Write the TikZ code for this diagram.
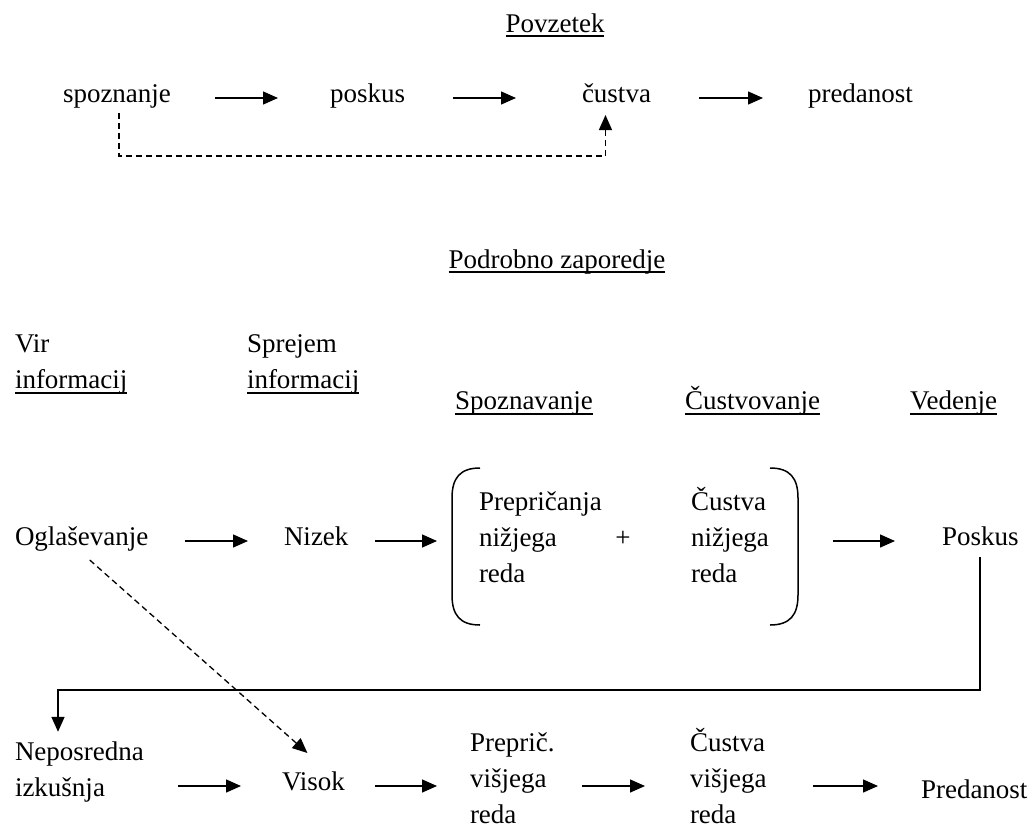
\documentclass[tikz,border=0pt]{standalone}
\usepackage{fontspec}
\setmainfont{Liberation Serif}
\usetikzlibrary{arrows.meta}
\begin{document}
\begin{tikzpicture}[x=1pt,y=-1pt,
  font=\fontsize{27}{36}\selectfont,
  lbl/.style={inner sep=0pt, outer sep=0pt, anchor=base west, text height=17pt, text depth=9pt},
  ttl/.style={inner sep=0pt, outer sep=0pt, anchor=base},
  multi/.style={inner sep=0pt, outer sep=0pt, anchor=base west},
  arr/.style={line width=1.4pt, -{Triangle[length=15pt,width=13pt]}},
  arrb/.style={line width=1.7pt, -{Triangle[length=15pt,width=13pt]}},
  dasharr/.style={line width=1.3pt, dash pattern=on 6pt off 4pt, -{Triangle[length=15pt,width=13pt]}},
  br/.style={line width=1.5pt},
  ul/.style={line width=1.6pt}]
\useasboundingbox (0,0) rectangle (1028,830);

% ---- Povzetek ----
\node[ttl] (povz) at (555,32) {Povzetek};
\draw[ul] ([yshift=-4pt]povz.base west) -- ([yshift=-4pt]povz.base east);

\node[lbl] (spoz) at (63,102) {spoznanje};
\node[lbl] (posk) at (330,102) {poskus};
\node[lbl] (cust) at (582,102) {čustva};
\node[lbl] (pred) at (808,102) {predanost};
\draw[arr] ([xshift=-115pt]posk.west) -- ([xshift=-52pt]posk.west);
\draw[arr] ([xshift=-129pt]cust.west) -- ([xshift=-66pt]cust.west);
\draw[arr] ([xshift=-109pt]pred.west) -- ([xshift=-45pt]pred.west);
\draw[dasharr] ([shift={(2,2)}]spoz.south) -- ++(0,43) -| ([shift={(-11,4)}]cust.south);

% ---- Podrobno zaporedje ----
\node[ttl] (podr) at (557,268) {Podrobno zaporedje};
\draw[ul] ([yshift=-4pt]podr.base west) -- ([yshift=-4pt]podr.base east);

\node[lbl] (vir) at (15,352) {Vir};
\node[lbl] (vinf) at (15,388) {informacij};
\node[lbl] (sprej) at (247,352) {Sprejem};
\node[lbl] (sinf) at (247,388) {informacij};
\node[lbl] (hspo) at (455,409) {Spoznavanje};
\node[lbl] (hcus) at (685,409) {Čustvovanje};
\node[lbl] (hved) at (910,409) {Vedenje};
\foreach \n in {vinf,sinf,hspo,hcus,hved}
  \draw[ul] ([yshift=-5pt]\n.base west) -- ([yshift=-5pt]\n.base east);

% ---- row 2 ----
\node[lbl] (ogl) at (15,545) {Oglaševanje};
\node[lbl] (niz) at (284,545) {Nizek};
\node[inner sep=0pt, outer sep=0pt, minimum width=346pt, minimum height=157pt, anchor=north west] (grp) at (452,468) {};
\node[multi] (pn) at (479,510) {\begin{tabular}[t]{@{}l@{}}Prepričanja\\nižjega\\reda\end{tabular}};
\node[ttl] (plus) at (623,546) {+};
\node[multi] (cn) at (691,510) {\begin{tabular}[t]{@{}l@{}}Čustva\\nižjega\\reda\end{tabular}};
\node[lbl] (posk2) at (942,545) {Poskus};

\draw[br] ([shift={(28,0)}]grp.north west) .. controls ([shift={(8,0)}]grp.north west) and ([shift={(0,10)}]grp.north west) .. ([shift={(0,30)}]grp.north west)
  -- ([shift={(0,-30)}]grp.south west) .. controls ([shift={(0,-10)}]grp.south west) and ([shift={(8,0)}]grp.south west) .. ([shift={(28,0)}]grp.south west);
\draw[br] ([shift={(-28,0)}]grp.north east) .. controls ([shift={(-8,0)}]grp.north east) and ([shift={(0,10)}]grp.north east) .. ([shift={(0,30)}]grp.north east)
  -- ([shift={(0,-30)}]grp.south east) .. controls ([shift={(0,-10)}]grp.south east) and ([shift={(-8,0)}]grp.south east) .. ([shift={(-28,0)}]grp.south east);

\coordinate (gl) at (niz.west -| grp.west);
\draw[arr] ([xshift=-99pt]niz.west) -- ([xshift=-36pt]niz.west);
\draw[arr] ([xshift=-77pt]gl) -- ([xshift=-15pt]gl);
\draw[arr] ([xshift=-109pt]posk2.west) -- ([xshift=-47pt]posk2.west);

% ---- bottom row ----
\node[multi] (nep) at (15,760) {\begin{tabular}[t]{@{}l@{}}Neposredna\\izkušnja\end{tabular}};
\node[lbl] (vis) at (282,790) {Visok};
\node[multi] (pv) at (470,751) {\begin{tabular}[t]{@{}l@{}}Preprič.\\višjega\\reda\end{tabular}};
\node[multi] (cv) at (690,751) {\begin{tabular}[t]{@{}l@{}}Čustva\\višjega\\reda\end{tabular}};
\node[lbl] (pred2) at (921,798) {Predanost};

\coordinate (bend) at (0,690);
\draw[arrb] ([shift={(0,3)}]posk2.south) -- (posk2.south |- bend) -| ([shift={(43,-3)}]nep.north west);
\draw[dasharr] ([shift={(8,6)}]ogl.south) -- ([shift={(-6,-20)}]vis.north);

\draw[arr] ([xshift=-104pt]vis.west) -- ([xshift=-41pt]vis.west);
\draw[arr] ([xshift=-95pt]pv.west |- vis.west) -- ([xshift=-33pt]pv.west |- vis.west);
\draw[arr] ([xshift=-108pt]cv.west |- vis.west) -- ([xshift=-45pt]cv.west |- vis.west);
\draw[arr] ([xshift=-108pt]pred2.west |- vis.west) -- ([xshift=-43pt]pred2.west |- vis.west);
\end{tikzpicture}
\end{document}
